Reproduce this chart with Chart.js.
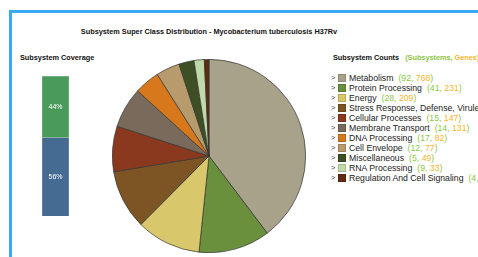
<!DOCTYPE html>
<html>
<head>
<meta charset="utf-8">
<script src="https://cdn.jsdelivr.net/npm/chart.js@4"></script>
<style>
  body { margin: 0; width: 478px; height: 257px; overflow: hidden; background: #fff;
         font-family: "Liberation Sans", Arial, sans-serif; position: relative; }
  #frame { position: absolute; left: 9px; top: 10px; width: 600px; height: 400px;
           border-left: 3px solid #3aa9f4; border-top: 3px solid #3aa9f4; }
  #title { position: absolute; left: 0; width: 418px; top: 27px; text-align: center;
           font-weight: bold; font-size: 7.3px; color: #111; }
  #covTitle { position: absolute; left: 20px; top: 53px; font-weight: bold; font-size: 7.3px; color: #111; }
  #cntTitle { position: absolute; left: 333px; top: 53px; font-weight: bold; font-size: 7.3px; color: #111; white-space: nowrap; }
  #cntTitle .s { color: #8cc63f; margin-left: 4px; }
  #cntTitle .g { color: #f5b52a; }
  #bar { position: absolute; left: 42px; top: 76px; }
  #pie { position: absolute; left: 112px; top: 59px; }
  #legend { position: absolute; left: 331px; top: 72px; font-size: 8.7px; color: #222; white-space: nowrap; }
  #legend div { height: 10px; line-height: 10px; white-space: nowrap; }
  #legend span { display: inline-block; vertical-align: middle; }
  #legend .chev { width: 7px; font-size: 7.5px; color: #444; }
  #legend .sw { width: 8px; height: 8px; margin-right: 3px; box-sizing: border-box; border: 1px solid rgba(0,0,0,0.15); }
  #legend .s { color: #8cc63f; margin-left: 5px; }
  #legend .g { color: #f5b52a; }
</style>
</head>
<body>
<div id="frame"></div>
<div id="title">Subsystem Super Class Distribution - Mycobacterium tuberculosis H37Rv</div>
<div id="covTitle">Subsystem Coverage</div>
<div id="cntTitle">Subsystem Counts <span class="s">(Subsystems, </span><span class="g">Genes)</span></div>
<canvas id="bar" width="27" height="140"></canvas>
<canvas id="pie" width="194" height="194"></canvas>
<div id="legend"></div>
<script>
const categories = ['Metabolism', 'Protein Processing', 'Energy', 'Stress Response, Defense, Virulence',
  'Cellular Processes', 'Membrane Transport', 'DNA Processing', 'Cell Envelope',
  'Miscellaneous', 'RNA Processing', 'Regulation And Cell Signaling'];
const subsystemCounts = [92, 41, 28, 30, 15, 14, 17, 12, 5, 9, 4];
const geneCounts = [768, 231, 209, 192, 147, 131, 82, 77, 49, 33, 15];
const colors = ['#a9a28b', '#6a903d', '#d8c86b', '#7d5424', '#8a391e', '#7a6a5b',
  '#d6781b', '#b89b6c', '#3f4f25', '#c1d9a9', '#5f2b13'];

const coverageLabels = ['In Subsystem', 'Not in Subsystem'];
const coverageValues = [56, 44];
const coverageColors = ['#466b93', '#4a9a5b'];

// legend built from the arrays
const legend = document.getElementById('legend');
categories.forEach((c, i) => {
  const row = document.createElement('div');
  row.innerHTML = '<span class="chev">&gt;</span><span class="sw" style="background:' + colors[i] + '"></span>' +
    '<span>' + c + '</span><span class="s">(' + subsystemCounts[i] + ',&nbsp;</span><span class="g">' +
    geneCounts[i] + '</span><span class="s" style="margin-left:0">)</span>';
  legend.appendChild(row);
});

new Chart(document.getElementById('pie'), {
  type: 'pie',
  data: {
    labels: categories,
    datasets: [{ data: geneCounts, backgroundColor: colors, borderColor: '#333', borderWidth: 0.7 }]
  },
  options: {
    responsive: false, animation: false,
    layout: { padding: 0 },
    plugins: { legend: { display: false }, tooltip: { enabled: false } }
  }
});

// percentage labels inside the stacked bar
const pctLabels = {
  id: 'pctLabels',
  afterDatasetsDraw(chart) {
    const ctx = chart.ctx;
    ctx.save();
    ctx.fillStyle = '#fff';
    ctx.font = '7px "Liberation Sans", Arial, sans-serif';
    ctx.textAlign = 'center';
    ctx.textBaseline = 'middle';
    chart.data.datasets.forEach((ds, i) => {
      const el = chart.getDatasetMeta(i).data[0];
      const mid = (el.y + el.base) / 2;
      ctx.fillText(ds.data[0] + '%', el.x, mid);
    });
    ctx.restore();
  }
};

new Chart(document.getElementById('bar'), {
  type: 'bar',
  data: {
    labels: ['Coverage'],
    datasets: coverageLabels.map((l, i) => ({
      label: l, data: [coverageValues[i]], backgroundColor: coverageColors[i],
      borderColor: 'rgba(0,0,0,0.1)', borderWidth: 0.5
    }))
  },
  options: {
    responsive: false, animation: false,
    layout: { padding: 0 },
    datasets: { bar: { barPercentage: 1, categoryPercentage: 1 } },
    scales: {
      x: { stacked: true, display: false },
      y: { stacked: true, display: false, min: 0, max: 100 }
    },
    plugins: { legend: { display: false }, tooltip: { enabled: false } }
  },
  plugins: [pctLabels]
});
</script>
</body>
</html>
